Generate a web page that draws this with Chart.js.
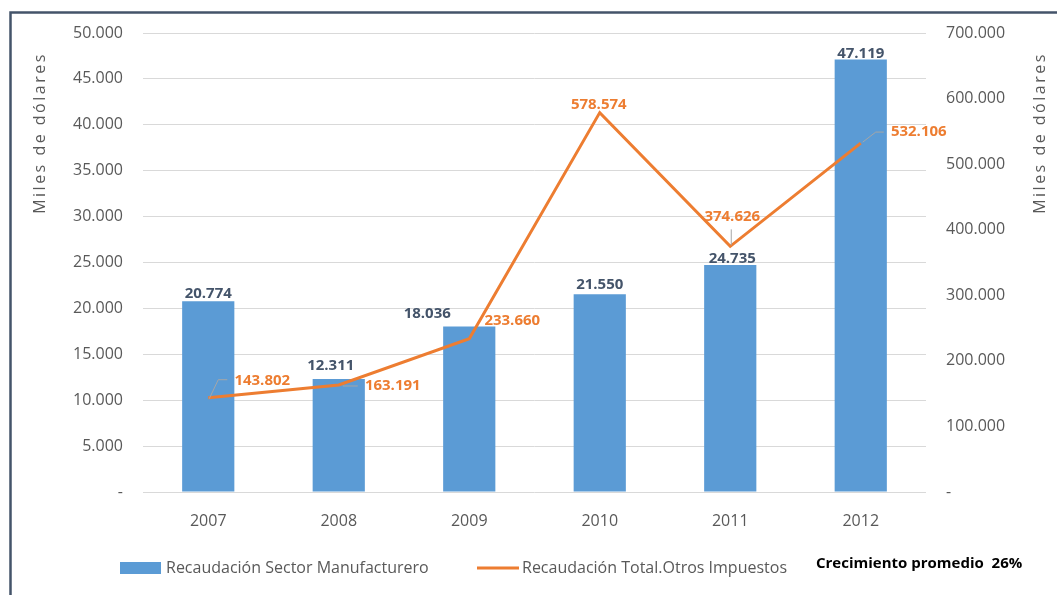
<!DOCTYPE html>
<html>
<head>
<meta charset="utf-8">
<script src="https://cdn.jsdelivr.net/npm/chart.js@4/dist/chart.umd.min.js"></script>
<style>
    html, body { margin: 0; padding: 0; background: #ffffff; overflow: hidden; }
    canvas { display: block; }
</style>
</head>
<body>
<canvas id="recaudacionChart" width="1057" height="595"></canvas>
<script>
// Data
const years = ['2007', '2008', '2009', '2010', '2011', '2012'];
const manufacturero = [20774, 12311, 18036, 21550, 24735, 47119];
const otrosImpuestos = [143802, 163191, 233660, 578574, 374626, 532106];
const leftAxisMax = 50000;
const leftAxisStep = 5000;
const rightAxisMax = 700000;
const rightAxisStep = 100000;
const growthNote = 'Crecimiento promedio  26%';
const axisTitle = 'Miles de dólares';

// Label placement (offsets from the bar top / line point)
const barLabelOffsets = [[0, -8], [-8, -13], [-42, -13], [0, -9], [2, -6], [0, -6]];
const lineLabelOffsets = [[54, -17], [54, 1], [43, -18], [-1, -8], [2, -30], [58, -11]];
const leaderPaths = [
    [[1, 1], [10, -18], [19, -18]],
    [[4, 1], [19, 1]],
    null,
    null,
    [[1, -17], [1, -1]],
    [[2, -1], [15, -11], [23, -11]]
];

const FONT = '"Open Sans", "DejaVu Sans", sans-serif';
const BAR_COLOR = '#5b9bd5';
const LINE_COLOR = '#ed7d31';
const TEXT_COLOR = '#595959';

function fmt(v) {
    return String(v).replace(/\B(?=(\d{3})+(?!\d))/g, '.');
}

// Frame, axis titles, legend and value labels
const decorations = {
    id: 'decorations',
    beforeDraw(chart) {
        const ctx = chart.ctx;
        ctx.save();
        ctx.fillStyle = '#ffffff';
        ctx.fillRect(0, 0, chart.width, chart.height);
        ctx.strokeStyle = '#44546a';
        ctx.lineWidth = 2.5;
        ctx.beginPath();
        ctx.moveTo(10.5, chart.height + 5);
        ctx.lineTo(10.5, 12.5);
        ctx.lineTo(chart.width + 5, 12.5);
        ctx.stroke();
        ctx.restore();
    },
    afterDatasetsDraw(chart) {
        const ctx = chart.ctx;
        const barMeta = chart.getDatasetMeta(0);
        const lineMeta = chart.getDatasetMeta(1);
        ctx.save();
        ctx.textAlign = 'center';
        ctx.textBaseline = 'middle';

        // bar values
        ctx.font = 'bold 15px ' + FONT;
        ctx.fillStyle = '#44546a';
        barMeta.data.forEach((bar, i) => {
            const off = barLabelOffsets[i];
            ctx.fillText(fmt(manufacturero[i]), bar.x + off[0], bar.y + off[1]);
        });

        // leader lines
        ctx.strokeStyle = '#a6a6a6';
        ctx.lineWidth = 1;
        lineMeta.data.forEach((pt, i) => {
            const path = leaderPaths[i];
            if (!path) return;
            ctx.beginPath();
            path.forEach((p, j) => {
                if (j === 0) ctx.moveTo(pt.x + p[0], pt.y + p[1]);
                else ctx.lineTo(pt.x + p[0], pt.y + p[1]);
            });
            ctx.stroke();
        });

        // line values
        ctx.fillStyle = LINE_COLOR;
        lineMeta.data.forEach((pt, i) => {
            const off = lineLabelOffsets[i];
            ctx.fillText(fmt(otrosImpuestos[i]), pt.x + off[0], pt.y + off[1]);
        });
        ctx.restore();
    },
    afterDraw(chart) {
        const ctx = chart.ctx;
        ctx.save();

        // axis titles, both reading bottom to top
        ctx.font = '16px ' + FONT;
        ctx.fillStyle = TEXT_COLOR;
        ctx.textAlign = 'center';
        ctx.textBaseline = 'middle';
        if ('letterSpacing' in ctx) ctx.letterSpacing = '2.5px';
        [[40, 133], [1040, 133]].forEach(([x, y]) => {
            ctx.save();
            ctx.translate(x, y);
            ctx.rotate(-Math.PI / 2);
            ctx.fillText(axisTitle, 0, 0);
            ctx.restore();
        });
        if ('letterSpacing' in ctx) ctx.letterSpacing = '0px';

        // legend
        const ly = 568;
        ctx.textAlign = 'left';
        ctx.font = '16px ' + FONT;
        ctx.fillStyle = BAR_COLOR;
        ctx.fillRect(120, ly - 6, 41, 12);
        ctx.fillStyle = TEXT_COLOR;
        ctx.fillText(chart.data.datasets[0].label, 166, ly);

        ctx.strokeStyle = LINE_COLOR;
        ctx.lineWidth = 3;
        ctx.beginPath();
        ctx.moveTo(477, ly);
        ctx.lineTo(519, ly);
        ctx.stroke();
        ctx.fillText(chart.data.datasets[1].label, 522, ly);

        ctx.font = 'bold 15px ' + FONT;
        ctx.fillStyle = '#000000';
        ctx.fillText(growthNote, 816, ly - 4);
        ctx.restore();
    }
};

const ctx = document.getElementById('recaudacionChart').getContext('2d');
new Chart(ctx, {
    type: 'bar',
    data: {
        labels: years,
        datasets: [{
            type: 'bar',
            label: 'Recaudación Sector Manufacturero',
            data: manufacturero,
            backgroundColor: BAR_COLOR,
            yAxisID: 'y',
            categoryPercentage: 1,
            barPercentage: 0.4,
            order: 2
        }, {
            type: 'line',
            label: 'Recaudación Total.Otros Impuestos',
            data: otrosImpuestos,
            borderColor: LINE_COLOR,
            borderWidth: 3,
            pointRadius: 0,
            tension: 0,
            yAxisID: 'y1',
            order: 1
        }]
    },
    options: {
        responsive: false,
        animation: false,
        devicePixelRatio: 1,
        layout: {
            padding: { top: 33, bottom: 50, left: 0, right: 0 }
        },
        plugins: {
            legend: { display: false },
            tooltip: { enabled: false }
        },
        scales: {
            x: {
                grid: { display: false },
                border: { display: false },
                ticks: {
                    color: TEXT_COLOR,
                    font: { family: FONT, size: 16 },
                    padding: 12
                },
                afterFit(scale) { scale.height = 53; }
            },
            y: {
                position: 'left',
                min: 0,
                max: leftAxisMax,
                grid: { color: '#d9d9d9', drawTicks: false },
                border: { display: false },
                ticks: {
                    stepSize: leftAxisStep,
                    color: TEXT_COLOR,
                    font: { family: FONT, size: 16 },
                    padding: 20,
                    callback: (v) => v === 0 ? '-' : fmt(v)
                },
                afterFit(scale) { scale.width = 143; }
            },
            y1: {
                position: 'right',
                min: 0,
                max: rightAxisMax,
                grid: { display: false, drawTicks: false },
                border: { display: false },
                ticks: {
                    stepSize: rightAxisStep,
                    color: TEXT_COLOR,
                    font: { family: FONT, size: 16 },
                    padding: 20,
                    callback: (v) => v === 0 ? '-' : fmt(v)
                },
                afterFit(scale) { scale.width = 131; }
            }
        }
    },
    plugins: [decorations]
});
</script>
</body>
</html>
